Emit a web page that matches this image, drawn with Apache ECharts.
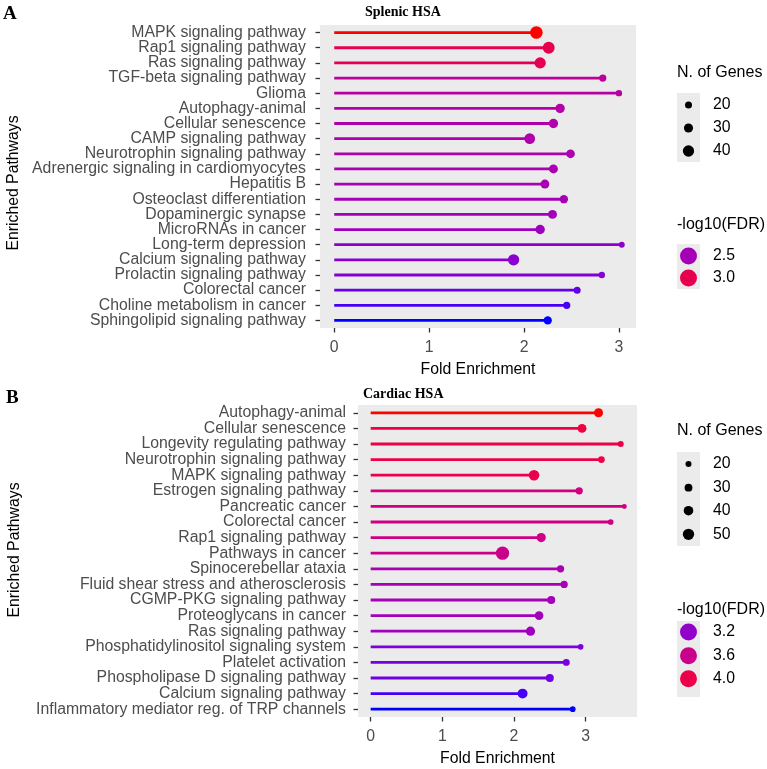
<!DOCTYPE html>
<html><head><meta charset="utf-8">
<script src="https://cdn.jsdelivr.net/npm/echarts@6/dist/echarts.min.js"></script>
<style>html,body{margin:0;padding:0;background:#fff}#c{width:767px;height:769px}</style>
</head><body><div id="c"></div>
<script>
// ---------- Data: Panel A (Splenic HSA) ----------
const pathwaysA = ["MAPK signaling pathway","Rap1 signaling pathway","Ras signaling pathway","TGF-beta signaling pathway","Glioma","Autophagy-animal","Cellular senescence","CAMP signaling pathway","Neurotrophin signaling pathway","Adrenergic signaling in cardiomyocytes","Hepatitis B","Osteoclast differentiation","Dopaminergic synapse","MicroRNAs in cancer","Long-term depression","Calcium signaling pathway","Prolactin signaling pathway","Colorectal cancer","Choline metabolism in cancer","Sphingolipid signaling pathway"];
const foldA = [2.13,2.26,2.17,2.83,3.00,2.38,2.31,2.06,2.49,2.31,2.22,2.42,2.30,2.17,3.03,1.89,2.82,2.56,2.45,2.25];
const genesA = [46,43,40,21,17,31,31,37,28,29,29,26,29,31,15,40,17,20,21,26];
const fdrA = [3.28,3.00,2.98,2.62,2.60,2.58,2.56,2.55,2.54,2.53,2.52,2.50,2.49,2.47,2.40,2.38,2.36,2.28,2.22,2.17];
const sizeBreaksA = [20,30,40];
const colorBreaksA = [2.5,3.0];

// ---------- Data: Panel B (Cardiac HSA) ----------
const pathwaysB = ["Autophagy-animal","Cellular senescence","Longevity regulating pathway","Neurotrophin signaling pathway","MAPK signaling pathway","Estrogen signaling pathway","Pancreatic cancer","Colorectal cancer","Rap1 signaling pathway","Pathways in cancer","Spinocerebellar ataxia","Fluid shear stress and atherosclerosis","CGMP-PKG signaling pathway","Proteoglycans in cancer","Ras signaling pathway","Phosphatidylinositol signaling system","Platelet activation","Phospholipase D signaling pathway","Calcium signaling pathway","Inflammatory mediator reg. of TRP channels"];
const foldB = [3.18,2.95,3.49,3.22,2.28,2.91,3.54,3.35,2.38,1.84,2.65,2.70,2.52,2.35,2.23,2.93,2.73,2.50,2.12,2.82];
const genesB = [37,36,20,24,46,27,14,18,38,61,27,27,31,35,38,18,25,31,42,18];
const fdrB = [4.32,4.05,4.02,4.00,3.98,3.68,3.66,3.64,3.62,3.60,3.35,3.33,3.31,3.30,3.28,3.10,3.08,3.06,2.95,2.89];
const sizeBreaksB = [20,30,40,50];
const colorBreaksB = [3.2,3.6,4.0];

const xTicks = [0,1,2,3];

// ---------- Colour: ggplot-like Lab gradient blue -> red ----------
function srgbToLin(c){c/=255;return c<=0.04045?c/12.92:Math.pow((c+0.055)/1.055,2.4);}
function linToSrgb(c){c=Math.max(0,Math.min(1,c));return Math.round(255*(c<=0.0031308?12.92*c:1.055*Math.pow(c,1/2.4)-0.055));}
const WX=0.95047,WY=1,WZ=1.08883;
function f(t){return t>0.008856?Math.cbrt(t):(7.787*t+16/116);}
function finv(t){return t*t*t>0.008856?t*t*t:(t-16/116)/7.787;}
function rgb2lab(r,g,b){const R=srgbToLin(r),G=srgbToLin(g),B=srgbToLin(b);
 const X=(0.4124*R+0.3576*G+0.1805*B)/WX,Y=(0.2126*R+0.7152*G+0.0722*B)/WY,Z=(0.0193*R+0.1192*G+0.9505*B)/WZ;
 const fx=f(X),fy=f(Y),fz=f(Z);return [116*fy-16,500*(fx-fy),200*(fy-fz)];}
function lab2rgb(L,a,b){const fy=(L+16)/116,fx=fy+a/500,fz=fy-b/200;
 const X=WX*finv(fx),Y=WY*finv(fy),Z=WZ*finv(fz);
 const R=3.2406*X-1.5372*Y-0.4986*Z,G=-0.9689*X+1.8758*Y+0.0415*Z,B=0.0557*X-0.2040*Y+1.0570*Z;
 return 'rgb('+linToSrgb(R)+','+linToSrgb(G)+','+linToSrgb(B)+')';}
const LOW=rgb2lab(0,0,255),HIGH=rgb2lab(255,0,0);
function makeColor(arr){const mn=Math.min(...arr),mx=Math.max(...arr);
 return v=>{const t=Math.max(0,Math.min(1,(v-mn)/(mx-mn)));
  return lab2rgb(LOW[0]+(HIGH[0]-LOW[0])*t,LOW[1]+(HIGH[1]-LOW[1])*t,LOW[2]+(HIGH[2]-LOW[2])*t);};}
const colorA=makeColor(fdrA),colorB=makeColor(fdrB);
const sizeA=g=>2.7+0.215*g, sizeB=g=>2.5+0.177*g;

const FONT='Liberation Sans, Arial, sans-serif';
const SERIF='Liberation Serif, Times New Roman, serif';

function yAxisFor(gi,cats,margin){
 return {type:'category',gridIndex:gi,data:cats,inverse:true,boundaryGap:true,
  axisLine:{show:false,onZero:false},splitLine:{show:false},
  axisTick:{show:true,interval:0,alignWithLabel:true,length:4.5,lineStyle:{color:'#333',width:1.3}},
  axisLabel:{interval:0,fontFamily:FONT,fontSize:15.8,color:'#4d4d4d',margin:margin}};
}
function xAxisFor(gi,mn,mx){
 return {type:'value',gridIndex:gi,min:mn,max:mx,
  name:'Fold Enrichment',nameLocation:'middle',nameGap:34,
  nameTextStyle:{fontFamily:FONT,fontSize:15.8,color:'#000'},
  axisLine:{show:false,onZero:false},splitLine:{show:false},
  axisTick:{show:true,customValues:xTicks,length:4.5,lineStyle:{color:'#333',width:1.3}},
  axisLabel:{customValues:xTicks,fontFamily:FONT,fontSize:15.8,color:'#4d4d4d',margin:12}};
}
function seriesFor(gi,fold,genes,fdr,colorFn,sizeFn){
 const segData=fold.map((v,i)=>[v,i,fdr[i]]);
 const dotData=fold.map((v,i)=>[v,i,genes[i],fdr[i]]);
 return [
  {type:'custom',xAxisIndex:gi,yAxisIndex:gi,data:segData,encode:{x:0,y:1},silent:true,
   renderItem:(p,api)=>{const y=api.value(1);const s=api.coord([0,y]);const e=api.coord([api.value(0),y]);
    return {type:'line',shape:{x1:s[0],y1:s[1],x2:e[0],y2:e[1]},style:{stroke:colorFn(api.value(2)),lineWidth:2.8}};}},
  {type:'scatter',xAxisIndex:gi,yAxisIndex:gi,data:dotData,encode:{x:0,y:1},symbol:'circle',z:5,
   symbolSize:v=>sizeFn(v[2]),itemStyle:{color:p=>colorFn(p.value[3]),opacity:1}}
 ];
}
function legendGraphics(x,topTitleY,sizeBreaks,sizeYs,sizeFn,colTitleY,colBreaks,colYs,colorFn,boxA,boxB){
 const g=[];
 const txt=(t,xx,yy,fs)=>({type:'text',x:xx,y:yy,style:{text:t,fontFamily:FONT,fontSize:fs,fill:'#000',verticalAlign:'middle'}});
 g.push(txt('N. of Genes',x,topTitleY,16));
 g.push({type:'rect',shape:{x:x,y:boxA[0],width:23,height:boxA[1]-boxA[0]},style:{fill:'#ebebeb'}});
 sizeBreaks.forEach((b,i)=>{g.push({type:'circle',shape:{cx:x+11.5,cy:sizeYs[i],r:sizeFn(b)/2},style:{fill:'#000'}});
  g.push(txt(String(b),x+36,sizeYs[i],15.8));});
 g.push(txt('-log10(FDR)',x,colTitleY,16));
 g.push({type:'rect',shape:{x:x,y:boxB[0],width:23,height:boxB[1]-boxB[0]},style:{fill:'#ebebeb'}});
 colBreaks.forEach((b,i)=>{g.push({type:'circle',shape:{cx:x+11.5,cy:colYs[i],r:8.5},style:{fill:colorFn(b)}});
  g.push(txt(b.toFixed(1),x+36,colYs[i],15.8));});
 return g;
}
function yTitle(xx,yy){
 return {type:'text',x:xx,y:yy,rotation:Math.PI/2,
  style:{text:'Enriched Pathways',fontFamily:FONT,fontSize:15.8,fill:'#000',align:'center',verticalAlign:'middle'}};
}

const chart=echarts.init(document.getElementById('c'),null,{renderer:'canvas'});
chart.setOption({
 animation:false,
 backgroundColor:'#fff',
 title:[
  {text:'A',left:3,top:5,padding:0,textStyle:{fontFamily:SERIF,fontWeight:'bold',fontSize:19,color:'#000'}},
  {text:'Splenic HSA',left:365,top:5,padding:0,textStyle:{fontFamily:SERIF,fontWeight:'bold',fontSize:14,color:'#000'}},
  {text:'B',left:6,top:389,padding:0,textStyle:{fontFamily:SERIF,fontWeight:'bold',fontSize:19,color:'#000'}},
  {text:'Cardiac HSA',left:363,top:387,padding:0,textStyle:{fontFamily:SERIF,fontWeight:'bold',fontSize:14,color:'#000'}}
 ],
 grid:[
  {left:320,top:25,width:316,height:303,show:true,backgroundColor:'#ebebeb',borderWidth:0,containLabel:false},
  {left:358,top:405,width:279,height:312,show:true,backgroundColor:'#ebebeb',borderWidth:0,containLabel:false}
 ],
 xAxis:[xAxisFor(0,-0.15,3.18),xAxisFor(1,-0.177,3.717)],
 yAxis:[yAxisFor(0,pathwaysA,14),yAxisFor(1,pathwaysB,12)],
 series:[...seriesFor(0,foldA,genesA,fdrA,colorA,sizeA),...seriesFor(1,foldB,genesB,fdrB,colorB,sizeB)],
 graphic:[
  yTitle(14,183),
  yTitle(15,550),
  ...legendGraphics(677,73,sizeBreaksA,[105,128,151],sizeA,225,colorBreaksA,[256,278],colorA,[93,162],[244,289]),
  ...legendGraphics(677,431,sizeBreaksB,[464,487.7,510.7,534.3],sizeB,610,colorBreaksB,[632,655.7,678.7],colorB,[452,546],[621,697])
 ]
});
</script></body></html>
